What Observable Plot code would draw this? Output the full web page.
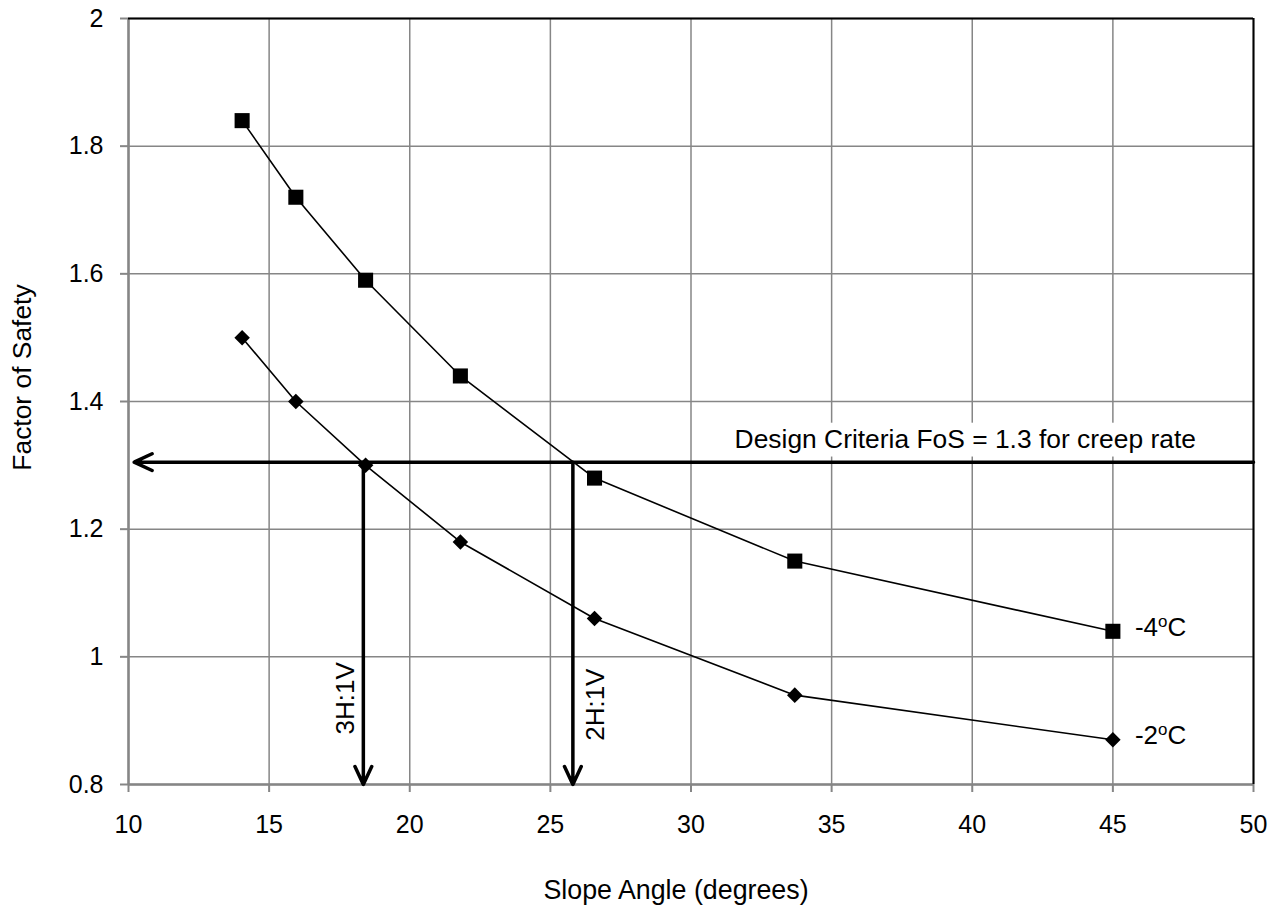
<!DOCTYPE html>
<html><head><meta charset="utf-8">
<script src="https://cdn.jsdelivr.net/npm/d3@7"></script>
<script src="https://cdn.jsdelivr.net/npm/@observablehq/plot@0.6"></script>
<style>body{margin:0;background:#fff} svg{display:block}</style>
</head><body><div id="chart"></div>
<script>
// ---- data ----
const slopeAngles = [14.04, 15.95, 18.43, 21.80, 26.57, 33.69, 45.0];
const fosMinus4 = [1.84, 1.72, 1.59, 1.44, 1.28, 1.15, 1.04];
const fosMinus2 = [1.50, 1.40, 1.30, 1.18, 1.06, 0.94, 0.87];
const seriesNames = ["-4oC", "-2oC"];
const xTicks = [10, 15, 20, 25, 30, 35, 40, 45, 50];
const yTicks = [0.8, 1.0, 1.2, 1.4, 1.6, 1.8, 2.0];
const yTickLabels = ["0.8", "1", "1.2", "1.4", "1.6", "1.8", "2"];
const designFoS = 1.305;
const designLabel = "Design Criteria FoS = 1.3 for creep rate";
const slopeRatioLabels = ["3H:1V", "2H:1V"];
const slopeRatioAngles = [18.35, 25.8];
const xTitle = "Slope Angle (degrees)";
const yTitle = "Factor of Safety";

// ---- build ----
const s4 = slopeAngles.map((x, i) => ({x, y: fosMinus4[i]}));
const s2 = slopeAngles.map((x, i) => ({x, y: fosMinus2[i]}));
const endLabels = [
  {x: slopeAngles[6], y: fosMinus4[6], t: seriesNames[0]},
  {x: slopeAngles[6], y: fosMinus2[6], t: seriesNames[1]}
];
const ratioLabels = [
  {x: 17.72, y: 0.935, t: slopeRatioLabels[0]},
  {x: 26.6, y: 0.925, t: slopeRatioLabels[1]}
];
const FONT = "'Liberation Sans', Arial, sans-serif";
const GRID = "#868686";

const chart = Plot.plot({
  width: 1274, height: 913,
  marginLeft: 128, marginRight: 21, marginTop: 18, marginBottom: 129,
  style: {fontFamily: FONT, background: "white", color: "black"},
  x: {domain: [10, 50]},
  y: {domain: [0.8, 2]},
  marks: [
    Plot.gridX(xTicks, {stroke: GRID, strokeOpacity: 1, strokeWidth: 1.5}),
    Plot.gridY(yTicks, {stroke: GRID, strokeOpacity: 1, strokeWidth: 1.5}),
    Plot.rect([{x1: 31.2, x2: 48.3, y1: 1.313, y2: 1.366}], {x1: "x1", x2: "x2", y1: "y1", y2: "y2", fill: "white"}),
    Plot.text([designLabel], {x: () => 31.55, y: () => 1.341, text: d => d, textAnchor: "start", fontSize: 26.4, fill: "black"}),
    Plot.axisY(yTicks, {tickSize: 8, tickPadding: 17, stroke: GRID, strokeWidth: 2, fill: "black", fontSize: 25, tickFormat: (d, i) => yTickLabels[i], label: null}),
    Plot.axisX(xTicks, {tickSize: 8, tickPadding: 23, stroke: GRID, strokeWidth: 2, fill: "black", fontSize: 25, label: null}),
    Plot.ruleX([10], {stroke: GRID, strokeWidth: 2.5}),
    Plot.ruleY([0.8], {stroke: GRID, strokeWidth: 2.5}),
    Plot.ruleY([2], {stroke: "black", strokeWidth: 2}),
    Plot.ruleX([50], {stroke: "black", strokeWidth: 2}),
    Plot.line(s4, {x: "x", y: "y", stroke: "black", strokeWidth: 1.6}),
    Plot.line(s2, {x: "x", y: "y", stroke: "black", strokeWidth: 1.6}),
    Plot.dot(s4, {x: "x", y: "y", symbol: "square", r: 8.5, fill: "black"}),
    Plot.dot(s2, {x: "x", y: "y", symbol: "square", r: 6.2, rotate: 45, fill: "black"}),
    Plot.arrow([designFoS], {x1: () => 50, x2: () => 10.2, y1: d => d, y2: d => d, stroke: "black", strokeWidth: 3.5, headLength: 8.5, headAngle: 50}),
    Plot.arrow(slopeRatioAngles, {x1: d => d, x2: d => d, y1: () => designFoS, y2: () => 0.8, stroke: "black", strokeWidth: 3.5, headLength: 8.5, headAngle: 50}),
    Plot.text(ratioLabels, {x: "x", y: "y", text: "t", rotate: -90, fontSize: 26, fill: "black"}),
    Plot.text(endLabels, {x: "x", y: "y", text: "t", dx: 22, dy: -4, textAnchor: "start", fontSize: 26, fill: "black"}),
    Plot.text([xTitle], {frameAnchor: "bottom", text: d => d, dx: -15, dy: 114, fontSize: 26.8, fill: "black"}),
    Plot.text([yTitle], {x: () => 6.25, y: () => 1.4376, text: d => d, rotate: -90, fontSize: 26.4, fill: "black"})
  ]
});
document.getElementById("chart").appendChild(chart);

// superscript "o" in the degree labels
d3.select(chart).selectAll("text").each(function() {
  const el = d3.select(this);
  const m = /^(-\d)o(C)$/.exec(el.text());
  if (m) {
    el.text(null);
    el.append("tspan").text(m[1]);
    el.append("tspan").attr("baseline-shift", "super").attr("font-size", "65%").text("o");
    el.append("tspan").text(m[2]);
  }
});
</script>
</body></html>
